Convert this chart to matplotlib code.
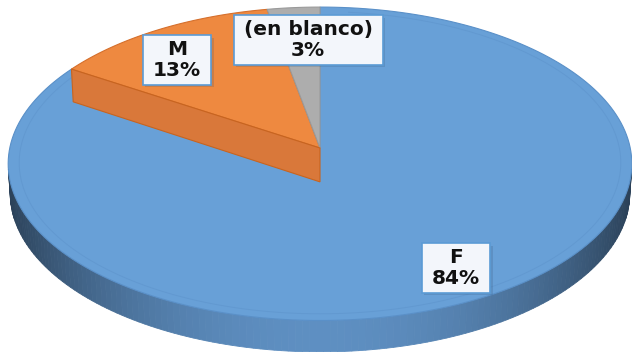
#! /usr/bin/env python3

"""
3D pie (Excel style) of F / M / (en blanco)
"""

import numpy as np
import matplotlib.pyplot as plt
from matplotlib.patches import Polygon, Rectangle

labels = ['F', 'M', '(en blanco)']
percents = [84, 13, 3]

top_colors = ['#68A0D7', '#EE8940', '#ADADAD']
edge_colors = ['#5A90C8', '#D56F2C', '#9A9A9A']
wall_color = '#D9783A'
side_rgb = np.array([100, 152, 206]) / 255.0

# label box centres, in pixels
label_xy = [(456, 268), (177, 60), (308, 40)]

# camera / projection (pixels)
CX, CY = 320.0, 148.0
ELEV = np.radians(30)
D = 8.6
F = 2668.0
H_SIDE = 0.11
H_WALL = 0.127
ce, se = np.cos(ELEV), np.sin(ELEV)


def proj(X, Y, Z):
    X, Y, Z = np.atleast_1d(X), np.atleast_1d(Y), np.atleast_1d(Z)
    depth = D + Y * ce - Z * se
    sx = CX + F * X / depth
    sy = CY - F * (Y * se + Z * ce) / depth
    return np.column_stack([sx, sy])


def rim(t0, t1, z, r=1.0, n=200):
    t = np.radians(np.linspace(t0, t1, n))
    return proj(r * np.cos(t), r * np.sin(t), np.full_like(t, z))


fig = plt.figure(figsize=(6.32, 3.52), dpi=100)
ax = fig.add_axes([0, 0, 1, 1])
ax.set_xlim(0, 632)
ax.set_ylim(352, 0)
ax.axis('off')

# slice angles: start at 12 o'clock, clockwise
frac = np.array(percents, dtype=float) / sum(percents)
cum = np.concatenate([[0], np.cumsum(frac)])
starts = 90 - cum[:-1] * 360
ends = 90 - cum[1:] * 360

# side wall of the cylinder (only the part facing the camera)
lim = np.degrees(np.arcsin(1 / (D * ce)))
tt = np.linspace(180 + lim, 360 - lim, 140)
for a, b in zip(tt[:-1], tt[1:]):
    m = np.radians((a + b) / 2)
    shade = 0.42 + 0.52 * (-np.sin(m)) ** 2.2
    col = np.clip(side_rgb * shade, 0, 1)
    quad = np.vstack([rim(a, b, 0, n=2), rim(b, a, -H_SIDE, n=2)])
    ax.add_patch(Polygon(quad, closed=True, facecolor=col, edgecolor=col, lw=0.6))

# top faces
c0 = proj(0.0, 0.0, 0.0)
for i in range(len(percents)):
    pts = np.vstack([c0, rim(starts[i], ends[i], 0)])
    ax.add_patch(Polygon(pts, closed=True, facecolor=top_colors[i],
                         edgecolor=edge_colors[i], lw=0.8, zorder=2 + i))

# faint bevel line on the big slice
ax.plot(*rim(starts[0] - 6, ends[0] + 3, 0, r=0.965).T, color='#5E94CC',
        lw=0.7, alpha=0.6, zorder=2.5)

# radial wall of the M slice, left edge
t = np.radians(starts[1])
r0 = proj(np.cos(t), np.sin(t), 0.0)
r1 = proj(np.cos(t), np.sin(t), -H_WALL)
c1 = proj(0.0, 0.0, -H_WALL)
ax.add_patch(Polygon(np.vstack([c0, r0, r1, c1]), closed=True,
                     facecolor=wall_color, edgecolor='#C8641F', lw=0.8, zorder=6))

# labels, with boxes sized from the text extent
texts = []
for (x, y), lab, p in zip(label_xy, labels, percents):
    texts.append(ax.text(x, y, f'{lab}\n{p}%', ha='center', va='center',
                         fontsize=14.5, fontweight='bold', color='#111111',
                         linespacing=1.1, zorder=12))
fig.canvas.draw()
inv = ax.transData.inverted()
pad_x, pad_y = 10, 5
for txt in texts:
    bb = txt.get_window_extent()
    (x0, y1), (x1, y0) = inv.transform([(bb.x0 - pad_x, bb.y0 - pad_y),
                                        (bb.x1 + pad_x, bb.y1 + pad_y)])
    ax.add_patch(Rectangle((x0 + 2.5, y0 + 2.5), x1 - x0, y1 - y0,
                           facecolor='#2B4A6A', alpha=0.18, lw=0, zorder=10))
    ax.add_patch(Rectangle((x0, y0), x1 - x0, y1 - y0, facecolor='#F3F6FB',
                           edgecolor='#5B9BD5', lw=1.2, zorder=11))

fig.savefig('out.png', dpi=100)
